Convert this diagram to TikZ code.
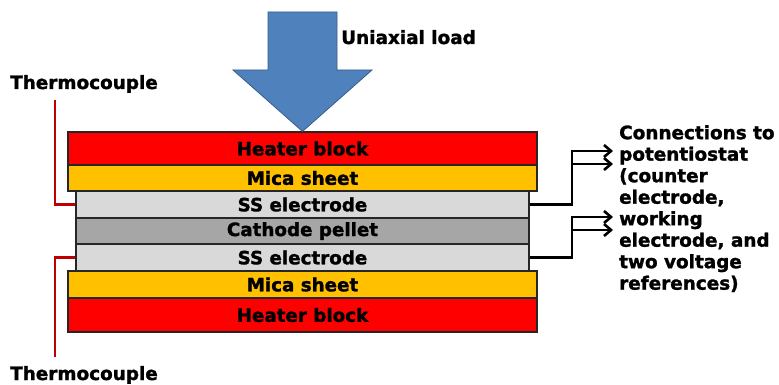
\documentclass[tikz,border=0pt]{standalone}
\usepackage{fontspec}
\setmainfont{DejaVu Sans}[BoldFeatures={FakeBold=1.5}]
\usetikzlibrary{arrows.meta}
\definecolor{heatred}{HTML}{FF0000}
\definecolor{micaor}{HTML}{FFC000}
\definecolor{sslight}{HTML}{D9D9D9}
\definecolor{cathgray}{HTML}{A6A6A6}
\definecolor{tcred}{HTML}{C00000}
\definecolor{loadblue}{HTML}{4F81BD}
\definecolor{loadedge}{HTML}{385D8A}
\tikzset{
  layer/.style={draw=black!85, line width=1.2pt, inner sep=0pt, font=\fontsize{18.3}{20}\selectfont\bfseries},
  wide/.style={layer, minimum width=469pt},
  narrow/.style={layer, minimum width=453pt},
  tcwire/.style={draw=tcred, line width=2.4pt},
  conn/.style={draw=black, line width=2.6pt, -{Straight Barb[length=7pt,width=12pt,line width=2.6pt]}},
  lbl/.style={inner sep=0pt, font=\fontsize{18.4}{22}\selectfont\bfseries}
}
\begin{document}
\begin{tikzpicture}[x=1pt,y=-1pt]
\useasboundingbox[fill=white] (0,0) rectangle (779,385);
% layers
\node[wide, fill=heatred, minimum height=33pt] (heater1) at (302.5,148.5) {Heater block};
\node[wide, fill=micaor, minimum height=26pt] (mica1) at (302.5,178) {Mica sheet};
\node[narrow, fill=sslight, minimum height=27pt] (ss1) at (302.5,204.5) {SS electrode};
\node[narrow, fill=cathgray, minimum height=26pt] (cath) at (302.5,231) {Cathode pellet};
\node[narrow, fill=sslight, minimum height=27pt] (ss2) at (302.5,257.5) {SS electrode};
\node[wide, fill=micaor, minimum height=27pt] (mica2) at (302.5,284.5) {Mica sheet};
\node[wide, fill=heatred, minimum height=34pt] (heater2) at (302.5,315) {Heater block};
% load arrow
\filldraw[fill=loadblue, draw=loadedge, line width=0.8pt]
  (268,12) -- (337,12) -- (337,70) -- (372,70) -- (heater1.north) -- (233,70) -- (268,70) -- cycle;
\node[lbl, anchor=base west] (load) at (341,44) {Uniaxial load};
% thermocouples
\node[lbl, anchor=base west] (tc1) at (10,89) {Thermocouple};
\node[lbl, anchor=base west] (tc2) at (10,380) {Thermocouple};
\coordinate (tc1end) at (55,100);
\coordinate (tc2end) at (55,357);
\draw[tcwire] (tc1end) |- (ss1.west);
\draw[tcwire] (ss2.west) -| (tc2end);
% connections
\node[inner sep=0pt, anchor=north west, align=left, font=\fontsize{18.4}{21.5}\selectfont\bfseries] (pot) at (619,125)
  {Connections to\\potentiostat\\(counter\\electrode,\\working\\electrode, and\\two voltage\\references)};
\coordinate (j1) at (572,151);
\coordinate (a1) at (613,151);
\coordinate (b1) at (613,164);
\coordinate (j2) at (572,217);
\coordinate (a2) at (613,217);
\coordinate (b2) at (613,230);
\draw[conn] (ss1.east) -| (j1) -- (a1);
\draw[conn] (j1 |- b1) -- (b1);
\draw[conn] (ss2.east) -| (j2) -- (a2);
\draw[conn] (j2 |- b2) -- (b2);
\end{tikzpicture}
\end{document}
